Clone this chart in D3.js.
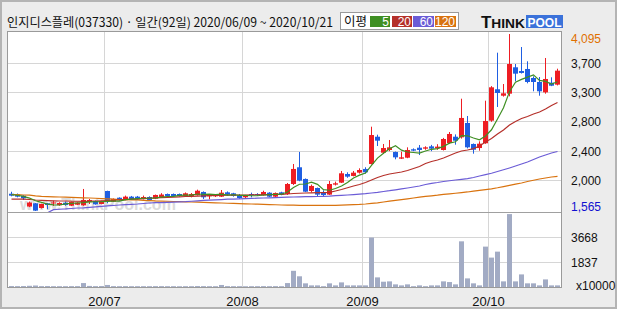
<!DOCTYPE html>
<html><head><meta charset="utf-8">
<script src="https://cdn.jsdelivr.net/npm/d3@7"></script>
<style>body{margin:0;background:#fff}svg{display:block}</style>
</head><body><svg id="c" width="620" height="310"></svg>
<script>
// ---------- DATA ----------
const title = "인지디스플레(037330) · 일간(92일) 2020/06/09 ~ 2020/10/21";
const dates = [
 "0609","0610","0611","0612","0615","0616","0617","0618","0619","0622","0623","0624","0625","0626","0629","0630",
 "0701","0702","0703","0706","0707","0708","0709","0710","0713","0714","0715","0716","0717","0720","0721","0722","0723","0724","0727","0728","0729","0730","0731",
 "0803","0804","0805","0806","0807","0810","0811","0812","0813","0814","0818","0819","0820","0821","0824","0825","0826","0827","0828","0831",
 "0901","0902","0903","0904","0907","0908","0909","0910","0911","0914","0915","0916","0917","0918","0921","0922","0923","0924","0925","0928","0929",
 "1005","1006","1007","1008","1012","1013","1014","1015","1016","1019","1020","1021"];
const opens = [1812,1804,1784,1629,1675,1608,1675,1675,1648,1684,
 1641,1655,1646,1694,1708,1665,1851,1698,1755,1722,
 1770,1770,1741,1765,1741,1765,1808,1808,1808,1780,
 1780,1790,1837,1775,1775,1770,1832,1818,1789,1761,
 1808,1808,1789,1827,1770,1832,1808,1951,2190,2023,
 1851,1894,1832,1799,1942,1970,2094,2066,2113,2166,
 2237,2627,2398,2437,2408,2313,2327,2447,2470,2456,
 2489,2461,2437,2537,2627,2618,2823,2523,2465,2533,
 2856,3305,3213,3242,3619,3566,3595,3466,3409,3261,
 3399,3371];
const highs = [1840,1815,1790,1700,1680,1670,1680,1712,1690,1700,
 1700,1690,1880,1737,1715,1712,1855,1745,1760,1785,
 1780,1780,1785,1775,1800,1820,1815,1815,1815,1830,
 1822,1870,1845,1800,1800,1865,1845,1825,1808,1795,
 1827,1820,1855,1835,1830,1840,1965,2237,2409,2030,
 1942,1900,1860,1994,1985,2137,2118,2137,2175,2190,
 2770,2656,2523,2580,2415,2413,2475,2460,2508,2490,
 2510,2520,2610,2694,2660,3170,2923,2530,2561,3142,
 3350,3828,3380,4095,3666,3909,3705,3490,3480,3752,
 3476,3599];
const lows = [1775,1760,1722,1620,1565,1600,1590,1637,1640,1640,
 1635,1650,1640,1665,1655,1660,1675,1695,1715,1718,
 1725,1730,1730,1715,1735,1760,1770,1770,1770,1770,
 1760,1785,1737,1732,1765,1765,1785,1770,1740,1737,
 1760,1780,1785,1765,1765,1790,1795,1937,1990,1835,
 1830,1770,1780,1795,1930,1965,2040,2060,2100,2100,
 2230,2494,2380,2420,2304,2308,2320,2420,2365,2440,
 2420,2440,2430,2525,2513,2600,2460,2384,2427,2525,
 2840,3052,3200,3204,3419,3530,3390,3276,3213,3242,
 3350,3360];
const closes = [1784,1770,1747,1686,1570,1665,1651,1687,1680,1651,
 1694,1684,1722,1722,1661,1708,1703,1737,1722,1770,
 1737,1741,1765,1722,1794,1800,1780,1780,1780,1818,
 1808,1855,1761,1790,1790,1827,1799,1780,1751,1789,
 1794,1799,1837,1770,1822,1799,1951,2166,1999,1841,
 1923,1799,1794,1951,1961,2104,2056,2113,2151,2118,
 2651,2570,2465,2475,2332,2332,2437,2428,2437,2475,
 2456,2485,2594,2666,2570,2895,2475,2441,2527,2852,
 3333,3252,3247,3666,3528,3538,3409,3409,3276,3452,
 3356,3571];
const volumes = [70,65,70,90,110,65,70,60,60,60,
 65,65,290,80,65,70,150,65,60,65,
 60,60,60,60,65,65,60,60,55,60,
 60,70,65,60,60,150,65,60,60,55,
 60,60,65,60,65,60,290,1195,790,270,
 120,120,60,270,120,340,120,120,120,120,
 3650,710,390,415,195,120,195,60,120,60,
 120,120,415,365,195,3370,635,270,120,2980,
 2170,2610,415,5380,415,930,270,270,120,560,
 120,120];
const ma5 = [1800,1790,1775,1750,1711,1688,1664,1652,1651,1667,
 1673,1679,1686,1695,1697,1699,1703,1706,1706,1728,
 1734,1741,1747,1747,1752,1764,1772,1775,1787,1792,
 1793,1808,1804,1806,1801,1805,1793,1797,1789,1789,
 1783,1783,1794,1798,1804,1805,1836,1902,1947,1951,
 1976,1946,1871,1862,1886,1922,1973,2037,2077,2108,
 2218,2321,2391,2456,2499,2435,2408,2401,2393,2422,
 2447,2456,2489,2535,2554,2642,2640,2609,2582,2638,
 2726,2881,3042,3270,3405,3446,3478,3510,3432,3417,
 3380,3413];
const ma20 = [1736,1736,1734,1729,1722,1718,1714,1711,1708,1708,
 1705,1704,1704,1705,1708,1711,1715,1719,1725,1729,
 1734,1736,1742,1747,1751,1755,1760,1764,1768,1772,
 1775,1779,1782,1785,1787,1789,1791,1792,1794,1794,
 1795,1797,1798,1799,1801,1804,1808,1815,1819,1822,
 1825,1828,1829,1832,1851,1872,1897,1922,1944,1972,
 2008,2044,2072,2094,2108,2122,2144,2172,2201,2244,
 2272,2294,2323,2358,2394,2423,2437,2456,2494,2551,
 2601,2666,2723,2794,2844,2887,2916,2951,2980,3023,
 3073,3116];
const ma60 = [1480,1490,1500,1510,1520,1530,1540,1585,1590,1594,
 1601,1608,1611,1618,1625,1632,1639,1644,1651,1657,
 1661,1665,1672,1679,1684,1686,1689,1692,1695,1698,
 1704,1711,1717,1721,1725,1729,1734,1736,1739,1742,
 1745,1748,1751,1754,1757,1760,1762,1765,1768,1770,
 1771,1772,1775,1779,1785,1789,1794,1799,1805,1812,
 1822,1832,1844,1855,1868,1881,1894,1908,1922,1944,
 1961,1972,1987,1997,2008,2018,2029,2044,2065,2084,
 2104,2130,2154,2180,2208,2237,2265,2301,2337,2366,
 2394,2416];
const ma120 = [1801,1798,1794,1791,1782,1775,1771,1768,1765,1762,
 1760,1757,1754,1751,1747,1742,1738,1734,1729,1727,
 1724,1722,1718,1714,1709,1706,1704,1701,1698,1695,
 1694,1691,1688,1685,1682,1679,1676,1674,1671,1668,
 1665,1662,1659,1656,1654,1651,1649,1648,1646,1645,
 1644,1644,1644,1645,1646,1649,1652,1655,1659,1665,
 1674,1682,1694,1705,1717,1728,1739,1751,1762,1774,
 1782,1791,1802,1811,1819,1828,1837,1848,1859,1871,
 1882,1897,1914,1931,1948,1965,1987,2005,2022,2037,
 2051,2061];
const priceMax = 4095, priceMin = 1565;
const priceGridValues = [3676, 3262, 2851, 2427, 2008];
const priceGridLabels = ["3,700","3,300","2,800","2,400","2,000"];
const volTop = 5505;
const volGridValues = [3668, 1837];
const volUnit = "x10000";
const maNames = ["5","20","60","120"];
const maColors = ["#3f8f23","#b5302a","#6b5cd6","#d9730f"];
const upColor = "#ee1d23", downColor = "#1f5fe2", volColor = "#a2abc4";

// ---------- SCALES ----------
const svg = d3.select("#c");
const x = d3.scaleBand().domain(d3.range(dates.length)).range([8.5, 560.5]);
const y = d3.scaleLinear().domain([priceMin, priceMax]).range([211, 34]);
const yv = d3.scaleLinear().domain([0, volTop]).range([287, 212.4]);
const cx = i => x(i) + x.bandwidth() / 2;

// ---------- FRAME ----------
svg.append("rect").attr("x",1).attr("y",1).attr("width",615).attr("height",307)
  .attr("fill","#ececec").attr("stroke","#b4b4b4").attr("stroke-width",2);
svg.append("rect").attr("x",7.5).attr("y",31.5).attr("width",554).attr("height",256)
  .attr("fill","#fff").attr("stroke","#9a9a9a");

svg.append("defs").append("clipPath").attr("id","pc").append("rect")
  .attr("x",8).attr("y",32).attr("width",553).attr("height",180);

// gridlines
const grid = svg.append("g").attr("stroke","#d6d6d6").attr("stroke-width",1);
priceGridValues.forEach(v => {
  const yy = Math.round(y(v)) + 0.5;
  grid.append("line").attr("x1",8).attr("x2",561).attr("y1",yy).attr("y2",yy);
});
volGridValues.forEach(v => {
  const yy = Math.round(yv(v)) + 0.5;
  grid.append("line").attr("x1",8).attr("x2",561).attr("y1",yy).attr("y2",yy);
});
const monthTicks = [];
dates.forEach((d,i) => { if (i > 0 && d.slice(0,2) !== dates[i-1].slice(0,2)) monthTicks.push(i); });
monthTicks.forEach(i => {
  grid.append("line").attr("x1",x(i)).attr("x2",x(i)).attr("y1",32).attr("y2",287);
});
svg.append("line").attr("x1",8).attr("x2",561).attr("y1",212.5).attr("y2",212.5).attr("stroke","#a0a0a0");

// watermark
svg.append("text").attr("x",20).attr("y",210).attr("font-family","Liberation Sans, Arial, sans-serif")
  .attr("font-size",16).attr("font-weight","bold").attr("fill","#dcdcdc").text("www.ThinkPool.com");

// ---------- CANDLES ----------
const cg = svg.append("g").attr("clip-path","url(#pc)");
dates.forEach((d,i) => {
  const o = opens[i], c = closes[i], col = c >= o ? upColor : downColor;
  cg.append("line").attr("x1",cx(i)).attr("x2",cx(i)).attr("y1",y(highs[i])).attr("y2",y(lows[i]))
    .attr("stroke",col).attr("stroke-width",1);
  const top = y(Math.max(o,c)), bot = y(Math.min(o,c));
  cg.append("rect").attr("x",x(i)+0.5).attr("y",top).attr("width",5).attr("height",Math.max(1,bot-top))
    .attr("fill",col);
});

// ---------- MOVING AVERAGES ----------
const line = d3.line().x((d,i) => cx(i)).y(d => y(d));
[ma120, ma60, ma20, ma5].forEach((arr, k) => {
  const col = maColors[3-k];
  cg.append("path").attr("d", line(arr)).attr("fill","none").attr("stroke",col).attr("stroke-width",1.2);
});

// ---------- VOLUME ----------
const vg = svg.append("g");
volumes.forEach((v,i) => {
  vg.append("rect").attr("x",x(i)+0.5).attr("y",yv(v)).attr("width",5).attr("height",yv(0)-yv(v))
    .attr("fill",volColor);
});

// ---------- TEXT ----------
const latin = "Liberation Sans, Arial, sans-serif";
svg.append("text").attr("x",7).attr("y",27).attr("font-family","Noto Sans CJK KR, sans-serif")
  .attr("font-size",12.5).attr("fill","#111")
  .attr("textLength",326).attr("lengthAdjust","spacingAndGlyphs").text(title);

// legend
const lg = svg.append("g");
lg.append("rect").attr("x",340.5).attr("y",12.5).attr("width",118).attr("height",17)
  .attr("fill","#fff").attr("stroke","#9a9a9a");
lg.append("text").attr("x",344).attr("y",26).attr("font-family","Noto Sans CJK KR, sans-serif")
  .attr("font-size",12.5).attr("fill","#111").text("이평");
const boxX = [370, 392, 413, 435], boxW = [20, 20, 21, 21];
maNames.forEach((n,k) => {
  lg.append("rect").attr("x",boxX[k]).attr("y",16).attr("width",boxW[k]).attr("height",11).attr("fill",maColors[k]);
  lg.append("text").attr("x",boxX[k]+boxW[k]-1).attr("y",26).attr("text-anchor","end")
    .attr("font-family",latin).attr("font-size",12).attr("fill","#fff").text(n);
});

// logo
const logo = svg.append("g");
logo.append("text").attr("x",481).attr("y",28).attr("font-family",latin).attr("font-weight","bold")
  .attr("font-size",16).attr("fill","#111").attr("textLength",44).attr("lengthAdjust","spacingAndGlyphs")
  .text("T").append("tspan").attr("font-size",13).text("HINK");
logo.append("rect").attr("x",526).attr("y",15).attr("width",37).attr("height",13).attr("fill","#3b72da");
logo.append("text").attr("x",527.5).attr("y",27).attr("font-family",latin).attr("font-weight","bold")
  .attr("font-size",12.5).attr("fill","#fff").attr("textLength",34).attr("lengthAdjust","spacingAndGlyphs").text("POOL");

// right axis labels
const fmt = d3.format(",");
const ra = svg.append("g").attr("font-family",latin).attr("font-size",12);
ra.append("text").attr("x",571).attr("y",y(priceMax)+4.3).attr("dy","0.35em").attr("fill","#e07000").text(fmt(priceMax));
priceGridValues.forEach((v,k) => {
  ra.append("text").attr("x",571).attr("y",Math.round(y(v))+0.5).attr("dy","0.35em").attr("fill","#111").text(priceGridLabels[k]);
});
ra.append("text").attr("x",571).attr("y",y(priceMin)-4.3).attr("dy","0.35em").attr("fill","#1010d0").text(fmt(priceMin));
volGridValues.forEach(v => {
  ra.append("text").attr("x",571).attr("y",Math.round(yv(v))+1).attr("dy","0.35em").attr("fill","#111").text(v);
});
ra.append("text").attr("x",576).attr("y",286).attr("dy","0.35em").attr("fill","#111").text(volUnit);

// bottom axis labels
monthTicks.forEach(i => {
  svg.append("text").attr("x",x(i)).attr("y",306).attr("text-anchor","middle")
    .attr("font-family",latin).attr("font-size",13).attr("fill","#111")
    .text("20/" + dates[i].slice(0,2));
});
</script></body></html>
